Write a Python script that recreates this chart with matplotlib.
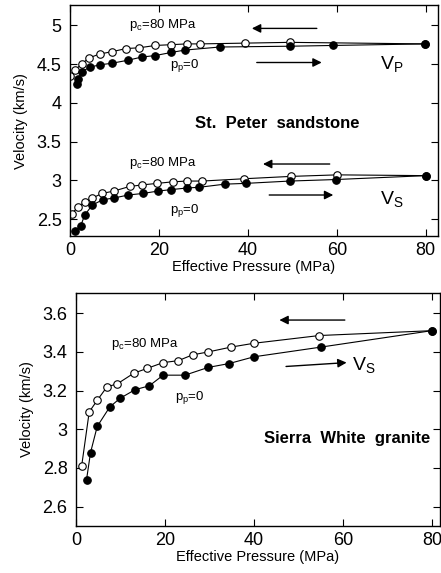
import numpy as np
import matplotlib
matplotlib.use("Agg")
import matplotlib.pyplot as plt

plt.rcParams['font.family'] = ['Liberation Sans', 'DejaVu Sans']
plt.rcParams['mathtext.fontset'] = 'custom'
plt.rcParams['mathtext.rm'] = 'Liberation Sans'
plt.rcParams['mathtext.it'] = 'Liberation Sans'

# St. Peter sandstone, Vp
sp_vp_dry_p = [1.5, 1.9, 2.6, 4.5, 6.7, 9.4, 13.1, 16.1, 19.2, 22.8, 25.8, 33.7, 49.4, 59.2, 79.8]
sp_vp_dry_v = [4.24, 4.31, 4.40, 4.46, 4.49, 4.51, 4.55, 4.59, 4.61, 4.65, 4.68, 4.72, 4.73, 4.74, 4.76]
sp_vp_wet_p = [0.0, 1.1, 2.6, 4.3, 6.7, 9.5, 12.6, 15.6, 19.2, 22.8, 26.2, 29.2, 39.3, 49.4, 79.8]
sp_vp_wet_v = [4.34, 4.42, 4.50, 4.58, 4.63, 4.66, 4.70, 4.71, 4.74, 4.75, 4.76, 4.76, 4.77, 4.78, 4.76]

# St. Peter sandstone, Vs
sp_vs_dry_p = [1.1, 2.4, 3.3, 5.0, 7.4, 9.8, 13.1, 16.4, 19.7, 22.8, 26.2, 29.1, 34.8, 39.5, 49.4, 59.9, 80.0]
sp_vs_dry_v = [2.35, 2.41, 2.55, 2.68, 2.75, 2.77, 2.81, 2.83, 2.86, 2.88, 2.90, 2.91, 2.95, 2.96, 2.99, 3.01, 3.06]
sp_vs_wet_p = [0.4, 1.9, 3.3, 5.0, 7.2, 9.8, 13.4, 16.2, 19.6, 23.1, 26.3, 29.7, 39.2, 49.6, 60.1, 80.0]
sp_vs_wet_v = [2.57, 2.66, 2.72, 2.77, 2.83, 2.86, 2.92, 2.94, 2.96, 2.98, 2.99, 2.99, 3.02, 3.05, 3.07, 3.06]

# Sierra White granite, Vs
sw_dry_p = [2.4, 3.3, 4.8, 7.6, 9.9, 13.3, 16.5, 19.6, 24.5, 29.7, 34.4, 40.0, 55.0, 79.9]
sw_dry_v = [2.74, 2.88, 3.015, 3.115, 3.16, 3.205, 3.225, 3.28, 3.28, 3.32, 3.34, 3.375, 3.425, 3.51]
sw_wet_p = [1.3, 3.0, 4.8, 7.0, 9.3, 13.0, 16.0, 19.6, 23.0, 26.2, 29.7, 34.8, 40.0, 54.7, 79.9]
sw_wet_v = [2.81, 3.09, 3.15, 3.22, 3.235, 3.29, 3.315, 3.345, 3.355, 3.385, 3.40, 3.425, 3.445, 3.485, 3.51]

fig = plt.figure(figsize=(4.41, 5.73), dpi=100)
ax1 = fig.add_axes([0.1587, 0.588, 0.834, 0.403])
ax2 = fig.add_axes([0.172, 0.082, 0.826, 0.4067])

mk = 5.4


def series(ax, p, v, filled):
    ax.plot(p, v, '-', color='k', lw=0.8, marker='o', ms=mk,
            mfc='k' if filled else 'white', mec='k', mew=0.8)


def arrow(ax, x0, y0, x1, y1):
    ax.annotate('', xy=(x1, y1), xytext=(x0, y0),
                arrowprops=dict(arrowstyle='-|>', color='k', lw=1.0,
                                mutation_scale=13, shrinkA=0, shrinkB=0))


series(ax1, sp_vp_wet_p, sp_vp_wet_v, False)
series(ax1, sp_vp_dry_p, sp_vp_dry_v, True)
series(ax1, sp_vs_wet_p, sp_vs_wet_v, False)
series(ax1, sp_vs_dry_p, sp_vs_dry_v, True)

series(ax2, sw_wet_p, sw_wet_v, False)
series(ax2, sw_dry_p, sw_dry_v, True)

ax1.set_xlim(0, 82.7)
ax1.set_ylim(2.28, 5.26)
ax1.set_xticks([0, 20, 40, 60, 80])
ax1.set_yticks([2.5, 3, 3.5, 4, 4.5, 5])
ax1.set_yticklabels(['2.5', '3', '3.5', '4', '4.5', '5'])

ax2.set_xlim(0, 81.8)
ax2.set_ylim(2.5, 3.705)
ax2.set_xticks([0, 20, 40, 60, 80])
ax2.set_yticks([2.6, 2.8, 3.0, 3.2, 3.4, 3.6])
ax2.set_yticklabels(['2.6', '2.8', '3', '3.2', '3.4', '3.6'])

for ax in (ax1, ax2):
    ax.tick_params(direction='in', top=True, right=True, labelsize=13,
                   length=5, width=0.8)
    ax.tick_params(axis='y', pad=6)
    ax.tick_params(axis='x', pad=4)
    ax.set_xlabel('Effective Pressure (MPa)', fontsize=10.5, labelpad=1)
    ax.set_ylabel('Velocity (km/s)', fontsize=10.5, labelpad=6)
    for s in ax.spines.values():
        s.set_linewidth(1.0)

# annotations, top panel
ax1.text(13.2, 4.96, r'$\mathregular{p_c}$=80 MPa', fontsize=9.5)
ax1.text(22.5, 4.45, r'$\mathregular{p_p}$=0', fontsize=9.5)
ax1.text(13.2, 3.18, r'$\mathregular{p_c}$=80 MPa', fontsize=9.5)
ax1.text(22.5, 2.58, r'$\mathregular{p_p}$=0', fontsize=9.5)
ax1.text(69.8, 4.44, r'$\mathregular{V_P}$', fontsize=14)
ax1.text(69.8, 2.69, r'$\mathregular{V_S}$', fontsize=14)
ax1.text(46.5, 3.73, 'St.  Peter  sandstone', fontsize=12, fontweight='bold',
         ha='center', va='center')
arrow(ax1, 55.5, 4.96, 40.9, 4.96)
arrow(ax1, 42.0, 4.52, 56.6, 4.52)
arrow(ax1, 58.4, 3.21, 43.4, 3.21)
arrow(ax1, 44.8, 2.81, 59.2, 2.81)

# annotations, bottom panel
ax2.text(8.0, 3.425, r'$\mathregular{p_c}$=80 MPa', fontsize=9.5)
ax2.text(22.2, 3.15, r'$\mathregular{p_p}$=0', fontsize=9.5)
ax2.text(62.0, 3.305, r'$\mathregular{V_S}$', fontsize=14)
ax2.text(61.0, 2.95, 'Sierra  White  granite', fontsize=12, fontweight='bold',
         ha='center', va='center')
arrow(ax2, 60.4, 3.565, 45.7, 3.565)
arrow(ax2, 47.2, 3.325, 60.8, 3.345)

fig.savefig('out.png', dpi=100)
